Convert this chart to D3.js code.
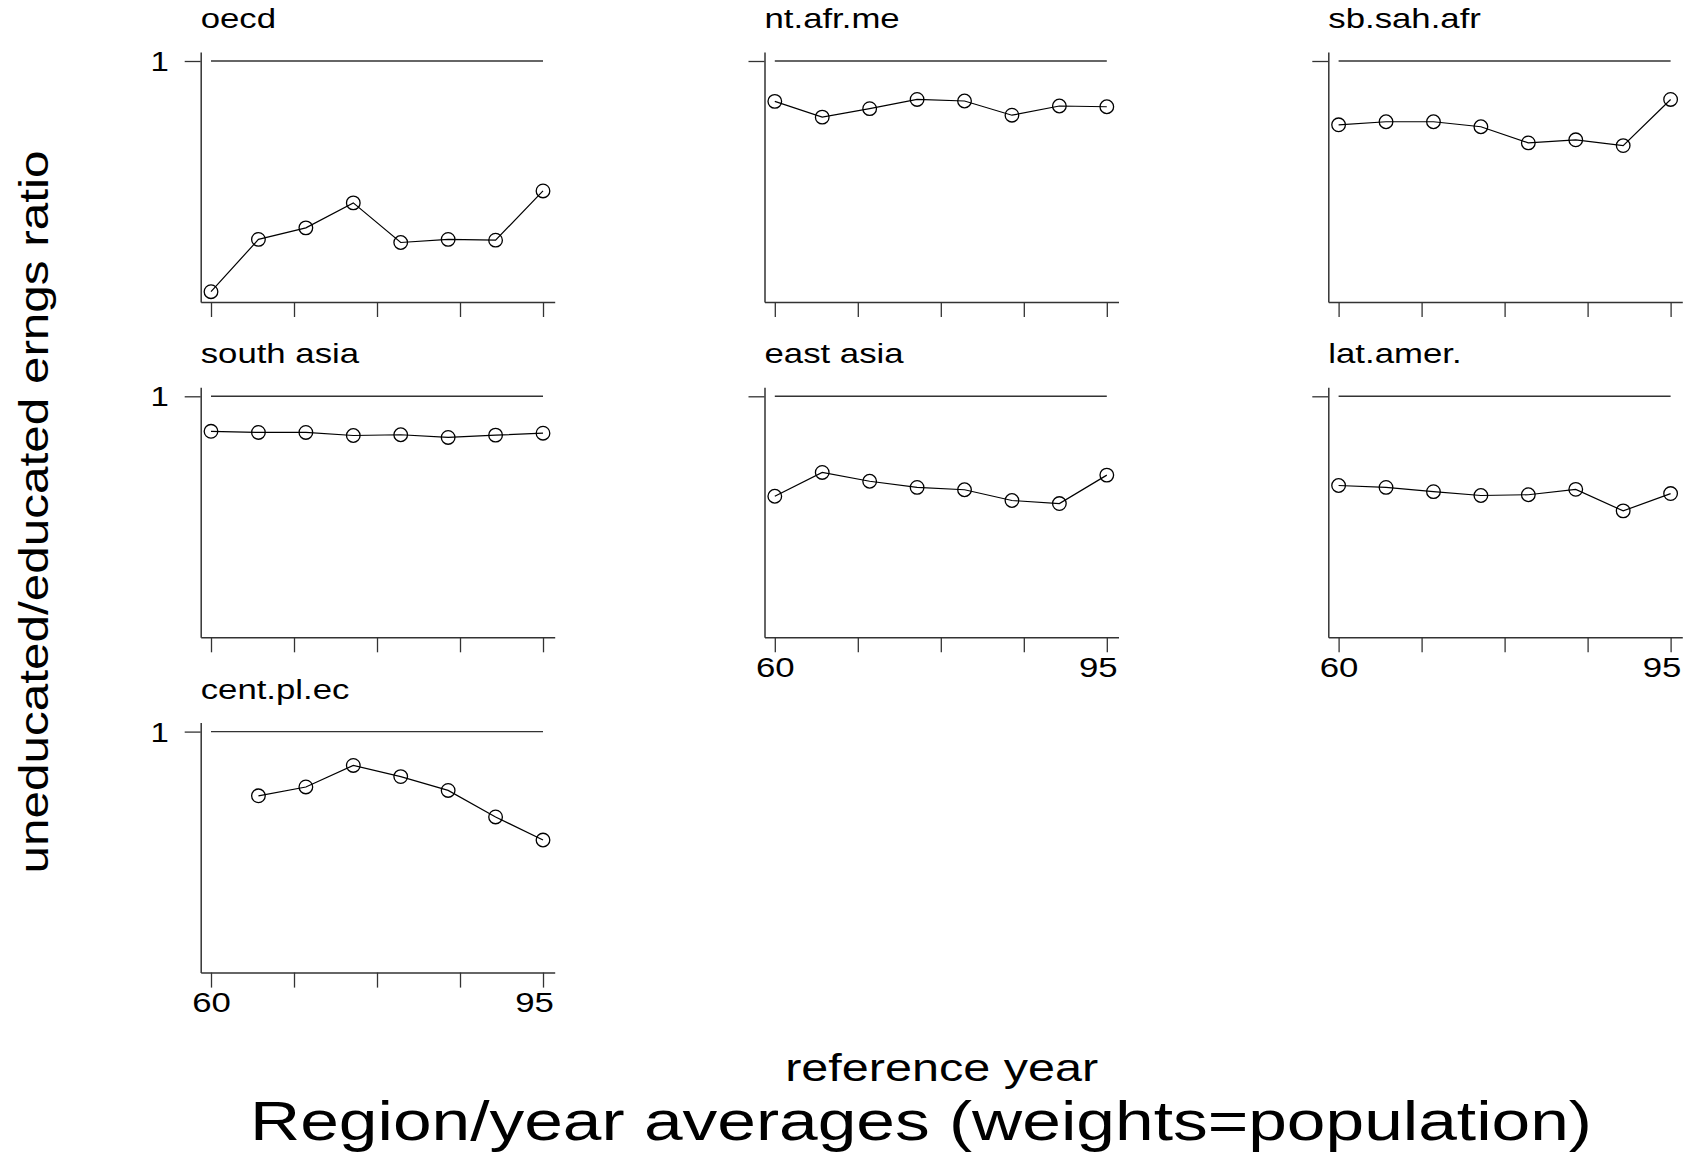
<!DOCTYPE html>
<html>
<head>
<meta charset="utf-8">
<script src="https://cdn.jsdelivr.net/npm/d3@7"></script>
<style>
  body { margin: 0; background: #fff; }
  text { font-family: "Liberation Sans", Arial, sans-serif; fill: #000; }
</style>
</head>
<body>
<script>
// years on the x axis
var years = [60, 65, 70, 75, 80, 85, 90, 95];

// panel names, in the order they are laid out
var regions = ["oecd", "nt.afr.me", "sb.sah.afr", "south asia", "east asia", "lat.amer.", "cent.pl.ec"];

// uneducated/educated earnings ratio per region
var oecd      = [0.400, 0.536, 0.566, 0.631, 0.528, 0.536, 0.534, 0.662];
var ntAfrMe   = [0.895, 0.854, 0.876, 0.900, 0.896, 0.859, 0.883, 0.881];
var sbSahAfr  = [0.834, 0.842, 0.842, 0.829, 0.787, 0.795, 0.780, 0.900];
var southAsia = [0.909, 0.906, 0.906, 0.898, 0.900, 0.893, 0.899, 0.904];
var eastAsia  = [0.740, 0.802, 0.779, 0.763, 0.757, 0.729, 0.721, 0.795];
var latAmer   = [0.768, 0.763, 0.752, 0.742, 0.744, 0.758, 0.702, 0.747];
var centPlEc  = [null, 0.833, 0.856, 0.912, 0.883, 0.847, 0.778, 0.718];

var seriesValues = [oecd, ntAfrMe, sbSahAfr, southAsia, eastAsia, latAmer, centPlEc];

// tick labels shown at the bottom of each column
var xTickLabels = [60, 95];
var yTickLabels = [1];

var width = 1691,
    height = 1154;

//horizontal stretch of the lettering in the original
var sx = 1.22;

var svg = d3.select("body")
    .append("svg")
    .attr("width", width)
    .attr("height", height);

//panel size (y axis top to x axis)
var pw = 354, ph = 250;

var x = d3.scaleLinear()
    .domain([58.914, 96.233])
    .range([0, pw]);

var y = d3.scaleLinear()
    .domain([0.3732, 1.0234])
    .range([ph, 0]);

var xTicks = d3.range(5).map(function(i){ return 60 + i * 8.75; });

var line = d3.line()
    .defined(function(d){ return d.v != null; })
    .x(function(d){ return x(d.year); })
    .y(function(d){ return y(d.v); });

regions.forEach(function(name, i){
    var col = i % 3,
        row = Math.floor(i / 3);

    //x labels only on the lowest panel of each column
    var showX = (row == 2) || (row == 1 && col > 0);

    var g = svg.append("g")
        .attr("transform", "translate(" + (200.7 + col * 563.8) + "," + (52 + row * 335.3) + ")");

    var data = years.map(function(yr, j){ return {year: yr, v: seriesValues[i][j]}; });

    //x axis
    var xAxis = g.append("g")
        .attr("transform", "translate(0," + ph + ")")
        .call(d3.axisBottom(x)
            .tickValues(xTicks)
            .tickSize(15)
            .tickSizeOuter(0)
            .tickPadding(4)
            .tickFormat(function(d){
                return (showX && xTickLabels.indexOf(d) >= 0) ? d : "";
            }));
    xAxis.select(".domain").attr("stroke", "#333").attr("stroke-width", 1.5);
    xAxis.selectAll(".tick line").attr("stroke", "#333").attr("stroke-width", 1.3);
    xAxis.selectAll(".tick text")
        .attr("font-size", 28.5)
        .attr("font-family", "Liberation Sans, Arial, sans-serif")
        .attr("fill", "#000")
        .attr("transform", function(d){ return (d == 95 ? "translate(-9,0) " : "") + "scale(" + sx + ",1)"; });

    //y axis
    var yAxis = g.append("g")
        .call(d3.axisLeft(y)
            .tickValues([1])
            .tickSize(16)
            .tickSizeOuter(0)
            .tickFormat(function(d){
                return (col == 0 && yTickLabels.indexOf(d) >= 0) ? d : "";
            }));
    yAxis.select(".domain").attr("stroke", "#333").attr("stroke-width", 1.5);
    yAxis.selectAll(".tick line").attr("stroke", "#333").attr("stroke-width", 1.3);
    yAxis.selectAll(".tick text")
        .attr("x", 0)
        .attr("font-size", 27)
        .attr("font-family", "Liberation Sans, Arial, sans-serif")
        .attr("fill", "#000")
        .attr("transform", "translate(-32,1) scale(" + sx + ",1)");

    //reference line at 1
    g.append("line")
        .attr("x1", x(60))
        .attr("x2", x(95))
        .attr("y1", y(1))
        .attr("y2", y(1))
        .attr("stroke", "#333")
        .attr("stroke-width", 1.4);

    //panel title
    g.append("text")
        .attr("transform", "translate(0," + (y(1) - 33) + ") scale(" + sx + ",1)")
        .attr("font-size", 28.5)
        .text(name);

    //series
    g.append("path")
        .datum(data)
        .attr("fill", "none")
        .attr("stroke", "#000")
        .attr("stroke-width", 1.2)
        .attr("d", line);

    g.selectAll(".pt")
        .data(data.filter(function(d){ return d.v != null; }))
        .enter()
        .append("circle")
        .attr("class", "pt")
        .attr("cx", function(d){ return x(d.year); })
        .attr("cy", function(d){ return y(d.v); })
        .attr("r", 6.8)
        .attr("fill", "none")
        .attr("stroke", "#000")
        .attr("stroke-width", 1.3);
});

//y axis title
svg.append("text")
    .attr("transform", "translate(48,512) rotate(-90)")
    .attr("text-anchor", "middle")
    .attr("font-size", 41)
    .attr("textLength", 723)
    .attr("lengthAdjust", "spacingAndGlyphs")
    .text("uneducated/educated erngs ratio");

//x axis title
svg.append("text")
    .attr("x", 941.7)
    .attr("y", 1081)
    .attr("text-anchor", "middle")
    .attr("font-size", 38)
    .attr("textLength", 313)
    .attr("lengthAdjust", "spacingAndGlyphs")
    .text("reference year");

//main title
svg.append("text")
    .attr("x", 921)
    .attr("y", 1140)
    .attr("text-anchor", "middle")
    .attr("font-size", 56)
    .attr("textLength", 1342)
    .attr("lengthAdjust", "spacingAndGlyphs")
    .text("Region/year averages (weights=population)");
</script>
</body>
</html>
